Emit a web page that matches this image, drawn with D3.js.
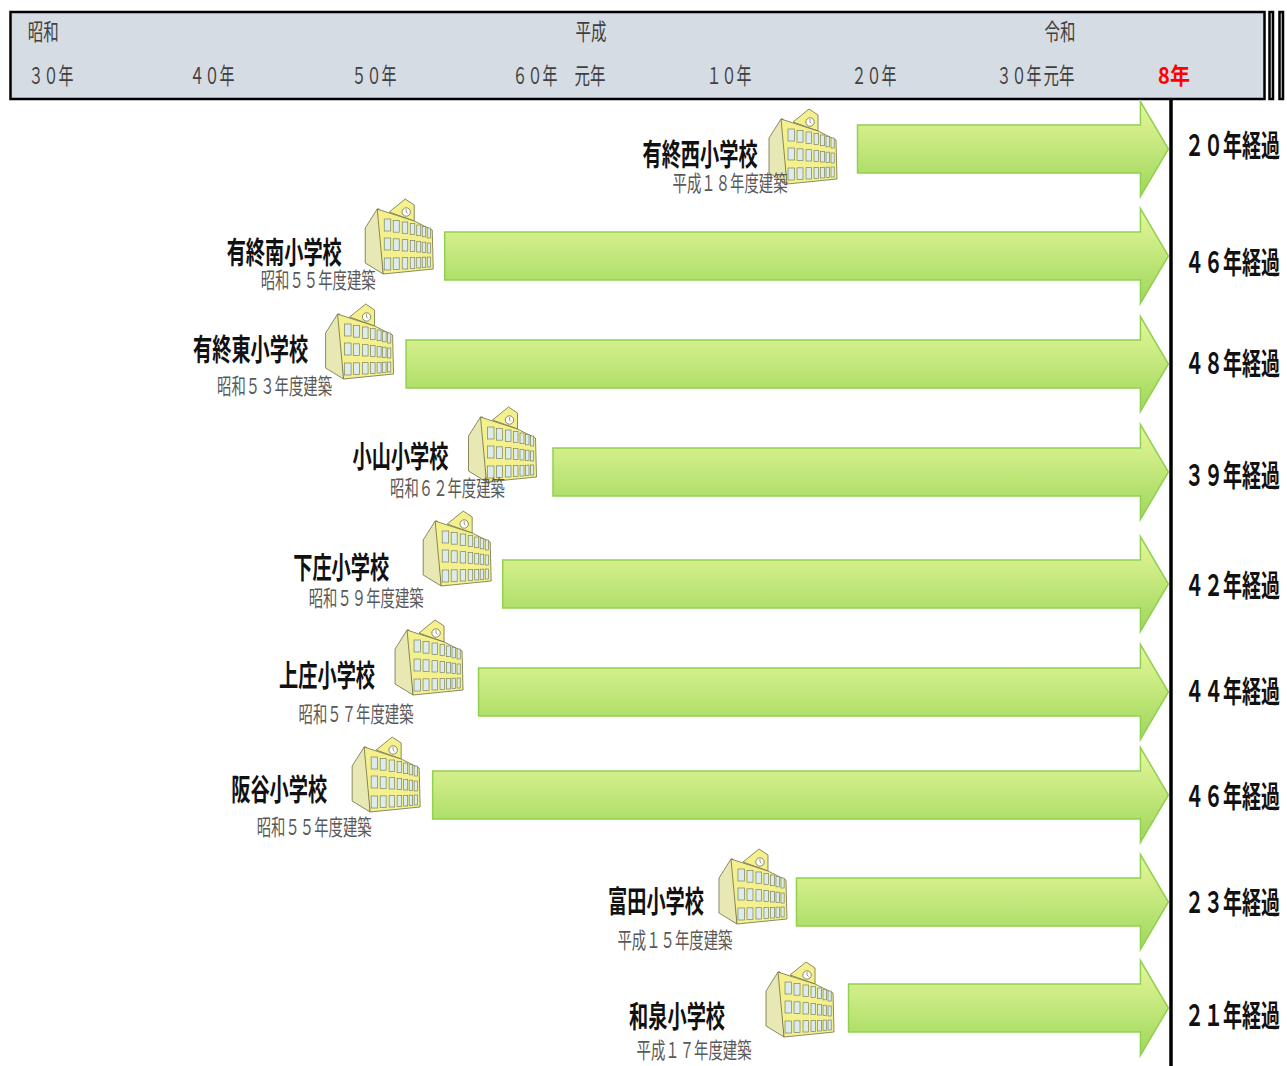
<!DOCTYPE html>
<html lang="ja">
<head>
<meta charset="utf-8">
<title>学校施設の経過年数</title>
<script src="https://cdn.jsdelivr.net/npm/d3@7/dist/d3.min.js"></script>
<style>
  html, body { margin: 0; padding: 0; background: #fff; }
  svg { display: block; }
  text { font-family: "Noto Sans CJK JP", "Noto Sans", sans-serif; dominant-baseline: central; text-anchor: middle; }
</style>
</head>
<body>
<div id="chart"></div>
<script>
// 学校ごとのデータ
const schools = ["有終西小学校", "有終南小学校", "有終東小学校", "小山小学校", "下庄小学校", "上庄小学校", "阪谷小学校", "富田小学校", "和泉小学校"];
const builtLabels = ["平成１８年度建築", "昭和５５年度建築", "昭和５３年度建築", "昭和６２年度建築", "昭和５９年度建築", "昭和５７年度建築", "昭和５５年度建築", "平成１５年度建築", "平成１７年度建築"];
const elapsedYears = [20, 46, 48, 39, 42, 44, 46, 23, 21];
// 矢印の始点（図から読んだ西暦）
const arrowStart = [2006.76, 1979.3, 1976.9, 1986.2, 1982.9, 1981.4, 1978.55, 2002.55, 2006.14];
const arrowEnd = 2025.6;

// 年表の目盛り
const tickYears = [1955, 1965, 1975, 1985, 1989, 1998, 2008, 2018, 2019, 2026];
const tickLabels = ["３０年", "４０年", "５０年", "６０年", "元年", "１０年", "２０年", "３０年", "元年", "8年"];
const eraNames = ["昭和", "平成", "令和"];
const eraYears = [1954.45, 1989, 2019];

// レイアウト（矢印の始点と行の中心からのずれ）
const tickPx = [52, 213, 375, 536, 591, 730, 875, 1020, 1060, 1175];
const rowPx = [149, 256, 364, 472, 584, 692, 795, 902, 1008];
const iconOffset = [[-88, -40], [-79, -57], [-80, -60], [-84, -65], [-79, -73], [-83, -72], [-80, -58], [-77, -53], [-82, -46]];
const nameOffset = [[-157, 3], [-160, -6], [-155, -17], [-152, -18], [-161, -19], [-151, -19], [-153, -8], [-140, -3], [-171, 6]];
const subOffset = [[-127, 32], [-126, 22], [-131, 20], [-105, 14], [-136, 12], [-122, 20], [-118, 30], [-121, 36], [-154, 40]];
const elapsedOffset = [-6, 4, -3, 1, -1, -3, -1, -2, 5];

const width = 1287, height = 1066;
const headerTop = 12, headerBottom = 99;

const svg = d3.select("#chart").append("svg")
    .attr("width", width)
    .attr("height", height);

// 元の年表は等間隔ではないので区間ごとの線形スケールにする
const x = d3.scaleLinear().domain(tickYears).range(tickPx);
const y = d3.scaleOrdinal().domain(schools).range(rowPx);

const defs = svg.append("defs");
const grad = defs.append("linearGradient")
    .attr("id", "arrowFill")
    .attr("x1", 0).attr("y1", 0).attr("x2", 0).attr("y2", 1);
grad.append("stop").attr("offset", "0%").attr("stop-color", "#e6f79c");
grad.append("stop").attr("offset", "100%").attr("stop-color", "#9ed75a");

// 細長い文字にする: 全角1文字 = font-size として横だけ縮める
const labelOf = d => typeof d === "string" ? d : d.label;
function squeezed(sel, fx, fy, fontSize, targetWidth) {
    sel.attr("font-size", fontSize)
        .attr("transform", (d, i) => {
            const natural = d3.sum(Array.from(labelOf(d)), c => c.charCodeAt(0) < 256 ? 0.55 : 1) * fontSize;
            return `translate(${fx(d, i)},${fy(d, i)}) scale(${targetWidth(d, i) / natural},1)`;
        });
}

// 年表の帯
svg.append("rect")
    .attr("x", 10.5).attr("y", headerTop)
    .attr("width", 1254).attr("height", headerBottom - headerTop)
    .attr("fill", "#d6dce4").attr("stroke", "#000").attr("stroke-width", 2.5);

[1269.5, 1279.5].forEach(function (bx) {
    svg.append("rect")
        .attr("x", bx).attr("y", headerTop)
        .attr("width", 3.5).attr("height", headerBottom - headerTop)
        .attr("fill", "#d6dce4").attr("stroke", "#000").attr("stroke-width", 2.5);
});

svg.selectAll(".era")
    .data(eraNames)
    .enter()
    .append("text")
    .attr("class", "era")
    .attr("fill", "#404040")
    .text(d => d)
    .call(squeezed, (d, i) => x(eraYears[i]), () => 30, 23, () => 31);

svg.selectAll(".tick-label")
    .data(tickLabels)
    .enter()
    .append("text")
    .attr("class", "tick-label")
    .attr("font-weight", (d, i) => i === tickLabels.length - 1 ? 700 : 400)
    .attr("fill", (d, i) => i === tickLabels.length - 1 ? "#ff0000" : "#404040")
    .text(d => d)
    .call(squeezed, (d, i) => x(tickYears[i]) - 1, () => 74, 23, d => d === "8年" ? 31 : d.length === 3 ? 45 : 31);

// 現在の線
svg.append("line")
    .attr("x1", 1171).attr("x2", 1171)
    .attr("y1", headerBottom).attr("y2", height)
    .attr("stroke", "#000").attr("stroke-width", 3.5);

const rows = schools.map((name, i) => ({
    name: name,
    built: builtLabels[i],
    elapsed: elapsedYears[i],
    start: arrowStart[i],
    icon: iconOffset[i],
    nameAt: nameOffset[i],
    subAt: subOffset[i],
    elapsedAt: elapsedOffset[i]
}));

function arrowPath(d) {
    const x0 = x(d.start) + 0.5, x1 = x(arrowEnd), c = y(d.name);
    const neck = x1 - 28;
    return d3.line()([
        [x0, c - 24], [neck, c - 24], [neck, c - 47.5], [x1, c],
        [neck, c + 47.5], [neck, c + 24], [x0, c + 24]
    ]) + "Z";
}

svg.selectAll(".arrow")
    .data(rows)
    .enter()
    .append("path")
    .attr("class", "arrow")
    .attr("d", arrowPath)
    .attr("fill", "url(#arrowFill)")
    .attr("stroke", "#92d050")
    .attr("stroke-width", 1.5);

// 校舎アイコン
function drawSchool(g) {
    const outline = "#6f6f45";
    const poly = pts => d3.line()(pts) + "Z";
    g.append("path")
        .attr("d", poly([[24, 13], [40, 0], [49, 6], [49, 22]]))
        .attr("fill", "#f4f08e").attr("stroke", outline).attr("stroke-width", 0.8);
    g.append("path")
        .attr("d", poly([[12, 10], [0, 29], [0, 64], [18, 75], [14, 10]]))
        .attr("fill", "#e8e8b4").attr("stroke", outline).attr("stroke-width", 0.8);
    g.append("path")
        .attr("d", poly([[12, 10], [24, 14], [49, 22], [67, 31], [68, 70], [18, 75]]))
        .attr("fill", "#f4f08e").attr("stroke", outline).attr("stroke-width", 0.8);
    g.append("circle")
        .attr("cx", 41).attr("cy", 13).attr("r", 4.2)
        .attr("fill", "#fff").attr("stroke", outline).attr("stroke-width", 0.8);
    g.append("path")
        .attr("d", "M41,10V13L42.5,14.5")
        .attr("fill", "none").attr("stroke", outline).attr("stroke-width", 0.7);

    const colX = [19, 28, 37, 45, 51.5, 57, 62];
    const colW = [6.5, 6, 5.5, 4.5, 4, 3.5, 3.2];
    const rowTop = [[20, 39, 59], [29, 44, 58]];
    const rowH = [12, 10];
    colX.forEach(function (cx, c) {
        const t = c / (colX.length - 1);
        [0, 1, 2].forEach(function (r) {
            g.append("rect")
                .attr("x", cx).attr("y", rowTop[0][r] + (rowTop[1][r] - rowTop[0][r]) * t)
                .attr("width", colW[c])
                .attr("height", rowH[0] + (rowH[1] - rowH[0]) * t)
                .attr("fill", "#dcebee").attr("stroke", "#7d8460").attr("stroke-width", 0.7);
        });
    });
}

svg.selectAll(".school-icon")
    .data(rows)
    .enter()
    .append("g")
    .attr("class", "school-icon")
    .attr("transform", d => `translate(${x(d.start) + d.icon[0]},${y(d.name) + d.icon[1]})`)
    .each(function () { drawSchool(d3.select(this)); });

svg.selectAll(".school-name")
    .data(rows.map(d => Object.assign({ label: d.name }, d)))
    .enter()
    .append("text")
    .attr("class", "school-name")
    .attr("font-weight", 700)
    .attr("fill", "#111")
    .text(d => d.name)
    .call(squeezed, d => x(d.start) + d.nameAt[0], d => y(d.name) + d.nameAt[1], 30, d => d.name.length * 19.2);

svg.selectAll(".built")
    .data(rows.map(d => Object.assign({ label: d.built }, d)))
    .enter()
    .append("text")
    .attr("class", "built")
    .attr("fill", "#595959")
    .text(d => d.built)
    .call(squeezed, d => x(d.start) + d.subAt[0], d => y(d.name) + d.subAt[1], 22, () => 115);

const zenkaku = n => String(n).replace(/\d/g, c => String.fromCharCode(c.charCodeAt(0) + 0xFEE0));

svg.selectAll(".elapsed")
    .data(rows.map(d => Object.assign({ label: `${zenkaku(d.elapsed)}年経過` }, d)))
    .enter()
    .append("text")
    .attr("class", "elapsed")
    .attr("font-weight", 700)
    .attr("fill", "#111")
    .text(d => d.label)
    .call(squeezed, () => 1232.5, d => y(d.name) + d.elapsedAt, 30, () => 95);
</script>
</body>
</html>
